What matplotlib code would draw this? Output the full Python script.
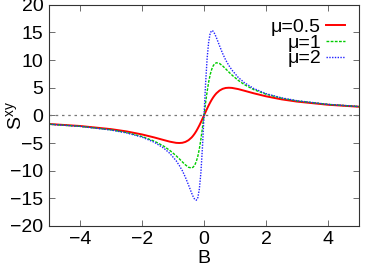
"""
  Transverse Seebeck-like signal S^xy vs field B for three values of mu.
"""

import numpy as np
import matplotlib.pyplot as plt

# Data (positive half; curves are odd in B).
B_pos = [0.0, 0.05, 0.1, 0.15, 0.2, 0.25, 0.3, 0.35, 0.4, 0.5, 0.6, 0.7,
         0.8, 0.9, 1.1, 1.3, 1.6, 2.0, 2.5, 3.0, 4.0, 5.0]
S_mu05 = [0.0, 0.62, 1.23, 1.81, 2.35, 2.85, 3.29, 3.67, 4.0, 4.49, 4.8, 4.96,
          5.0, 4.97, 4.76, 4.46, 4.0, 3.45, 2.9, 2.49, 1.92, 1.56]
S_mu1 = [0.0, 2.23, 4.29, 6.03, 7.4, 8.36, 9.01, 9.36, 9.52, 9.39, 8.95, 8.41,
         7.84, 7.3, 6.35, 5.57, 4.67, 3.83, 3.11, 2.61, 1.98, 1.59]
S_mu2 = [0.0, 5.7, 10.3, 13.3, 14.9, 15.35, 15.2, 14.7, 14.05, 12.6, 11.2, 10.0,
         9.04, 8.2, 6.89, 5.92, 4.87, 3.93, 3.17, 2.65, 1.99, 1.6]
labels = ['\u03bc=0.5', '\u03bc=1', '\u03bc=2']

def full(b, s):
    b = np.array(b); s = np.array(s)
    return np.concatenate([-b[:0:-1], b]), np.concatenate([-s[:0:-1], s])

plt.rcParams['font.family'] = ['Liberation Sans', 'DejaVu Sans']
plt.rcParams['font.size'] = 14

fig = plt.figure(figsize=(3.74, 2.68), dpi=100)
ax = fig.add_axes([0.131, 0.157, 0.829, 0.825])

ax.axhline(0, color='#777777', ls=(0, (2, 3)), lw=0.9)
x, y = full(B_pos, S_mu05)
ax.plot(x, y, '-', c='#ff0000', lw=1.4, label=labels[0])
x, y = full(B_pos, S_mu1)
ax.plot(x, y, c='#00cc00', ls=(0, (2, 1)), lw=1.0, label=labels[1])
x, y = full(B_pos, S_mu2)
ax.plot(x, y, c='#2222ff', ls=(0, (1, 1)), lw=1.0, label=labels[2])

ax.set_xlim(-5, 5)
ax.set_ylim(-20, 20)
ax.set_xticks([-4, -2, 0, 2, 4])
ax.set_yticks(np.arange(-20, 21, 5))
ax.tick_params(direction='in', top=True, right=True, length=4, width=0.6,
               color='#555555', pad=4)
for sp in ax.spines.values():
    sp.set_color('#333333')
    sp.set_linewidth(0.8)

ax.set_xlabel('B', va='top')
ax.xaxis.set_label_coords(0.5, -0.108)
ax.set_ylabel(r'S$^{\mathregular{xy}}$')
ax.yaxis.set_label_coords(-0.075, 0.5)
ax.legend(loc='upper right', markerfirst=False, frameon=False,
          handlelength=1.0, labelspacing=-0.1, borderpad=0.2,
          handletextpad=0.25, borderaxespad=0.5)

fig.savefig('out.png', dpi=100)
plt.close()
